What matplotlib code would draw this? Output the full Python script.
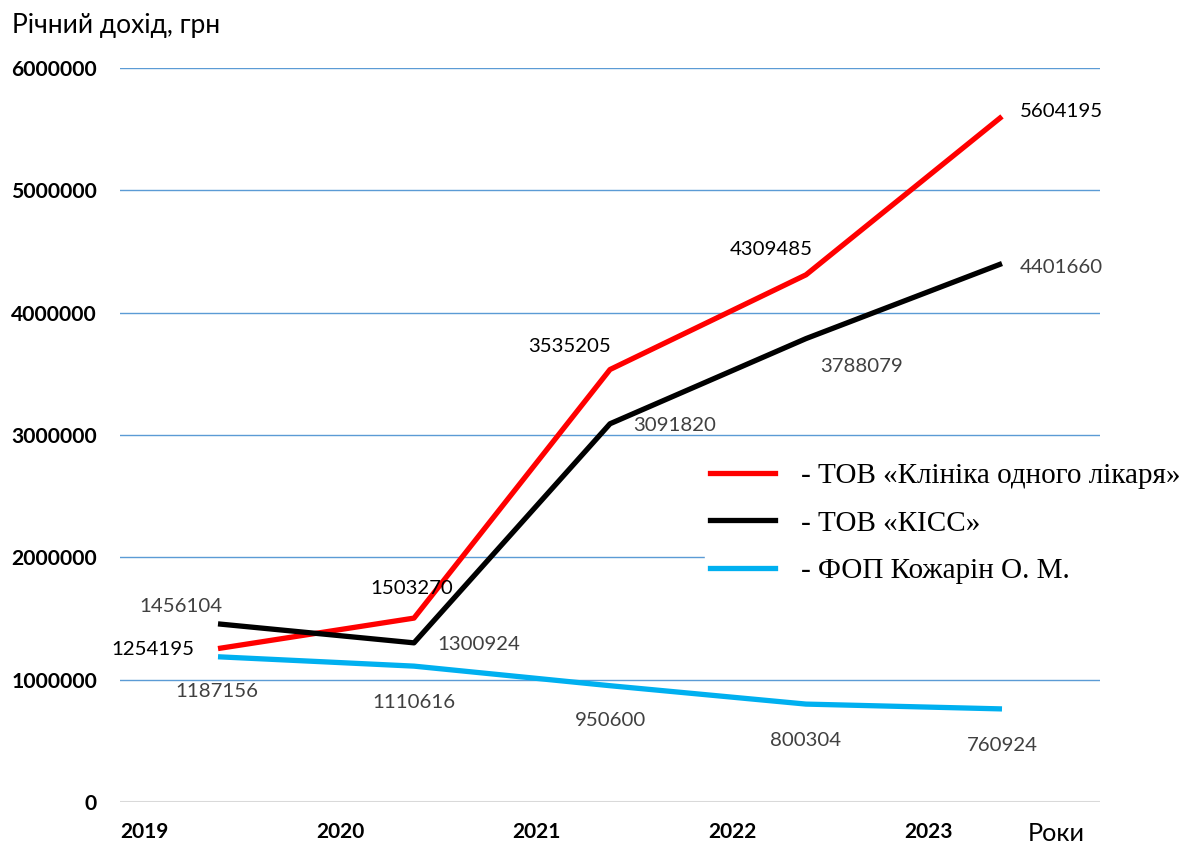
import matplotlib.pyplot as plt
from matplotlib.lines import Line2D

years = ['2019', '2020', '2021', '2022', '2023']
klinika = [1254195, 1503270, 3535205, 4309485, 5604195]
kiss = [1456104, 1300924, 3091820, 3788079, 4401660]
fop = [1187156, 1110616, 950600, 800304, 760924]
names = ['- ТОВ «Клініка одного лікаря»', '- ТОВ «КІСС»', '- ФОП Кожарін О. М.']

# label offsets in pixels (dx, dy), dy positive = down
klinika_off = [(-65, 1), (-2, -30), (-40, -23), (-35, -25), (59, -5)]
kiss_off = [(-37, -17), (65, 2), (65, 2), (56, 28), (59, 4)]
fop_off = [(-1, 35), (0, 36), (0, 35), (0, 36), (0, 37)]

plt.rcParams['font.family'] = ['Lato', 'DejaVu Sans']

fig = plt.figure(figsize=(11.89, 8.47), dpi=100)
ax = fig.add_axes([120/1189, 45/847, 980/1189, 734/847])

x = list(range(len(years)))
series = [(klinika, '#FF0000', klinika_off, 'black'),
          (kiss, '#000000', kiss_off, '#404040'),
          (fop, '#00B0F0', fop_off, '#404040')]
for vals, col, offs, tcol in series:
    ax.plot(x, vals, color=col, lw=3.8, solid_capstyle='butt', zorder=3)
    for xi, v, (dx, dy) in zip(x, vals, offs):
        ax.annotate(str(v), (xi, v), xytext=(dx, -dy), textcoords='offset pixels',
                    ha='center', va='center', fontsize=14.7, color=tcol, zorder=5)

ax.set_xlim(-0.5, 4.5)
ax.set_ylim(0, 6000000)
for y in range(1000000, 6000001, 1000000):
    ax.axhline(y, color='#5B9BD5', lw=1, zorder=1)
ax.axhline(0, color='#D9D9D9', lw=1.5, zorder=1)
for s in ax.spines.values():
    s.set_visible(False)

ax.set_yticks(range(0, 6000001, 1000000))
ax.set_yticklabels([str(v) for v in range(0, 6000001, 1000000)], fontweight='bold', fontsize=15.2)
ax.tick_params(axis='y', length=0, pad=16.5)
ax.set_xticks([])
for i, yr in enumerate(years):
    ax.text(i - 0.5, -0.041, yr, transform=ax.get_xaxis_transform(), ha='left', va='center',
            fontsize=15, fontweight='bold')

fig.text(12/1189, 1 - 25/847, 'Річний дохід, грн', fontsize=19, ha='left', va='center')
fig.text(1028/1189, 1 - 833/847, 'Роки', fontsize=18.2, ha='left', va='center')

handles = [Line2D([], [], color=c, lw=3.8) for c in ['#FF0000', '#000000', '#00B0F0']]
leg = ax.legend(handles, names, loc='upper left', bbox_to_anchor=(690/1189, 1 - 442/847),
                bbox_transform=fig.transFigure, frameon=True, fancybox=False,
                edgecolor='white', facecolor='white', framealpha=1,
                prop={'family': 'Liberation Serif', 'size': 21},
                handlelength=2.2, handletextpad=0.9, labelspacing=0.73,
                borderpad=0.2)
leg.set_zorder(4)

fig.savefig('out.png', dpi=100)
